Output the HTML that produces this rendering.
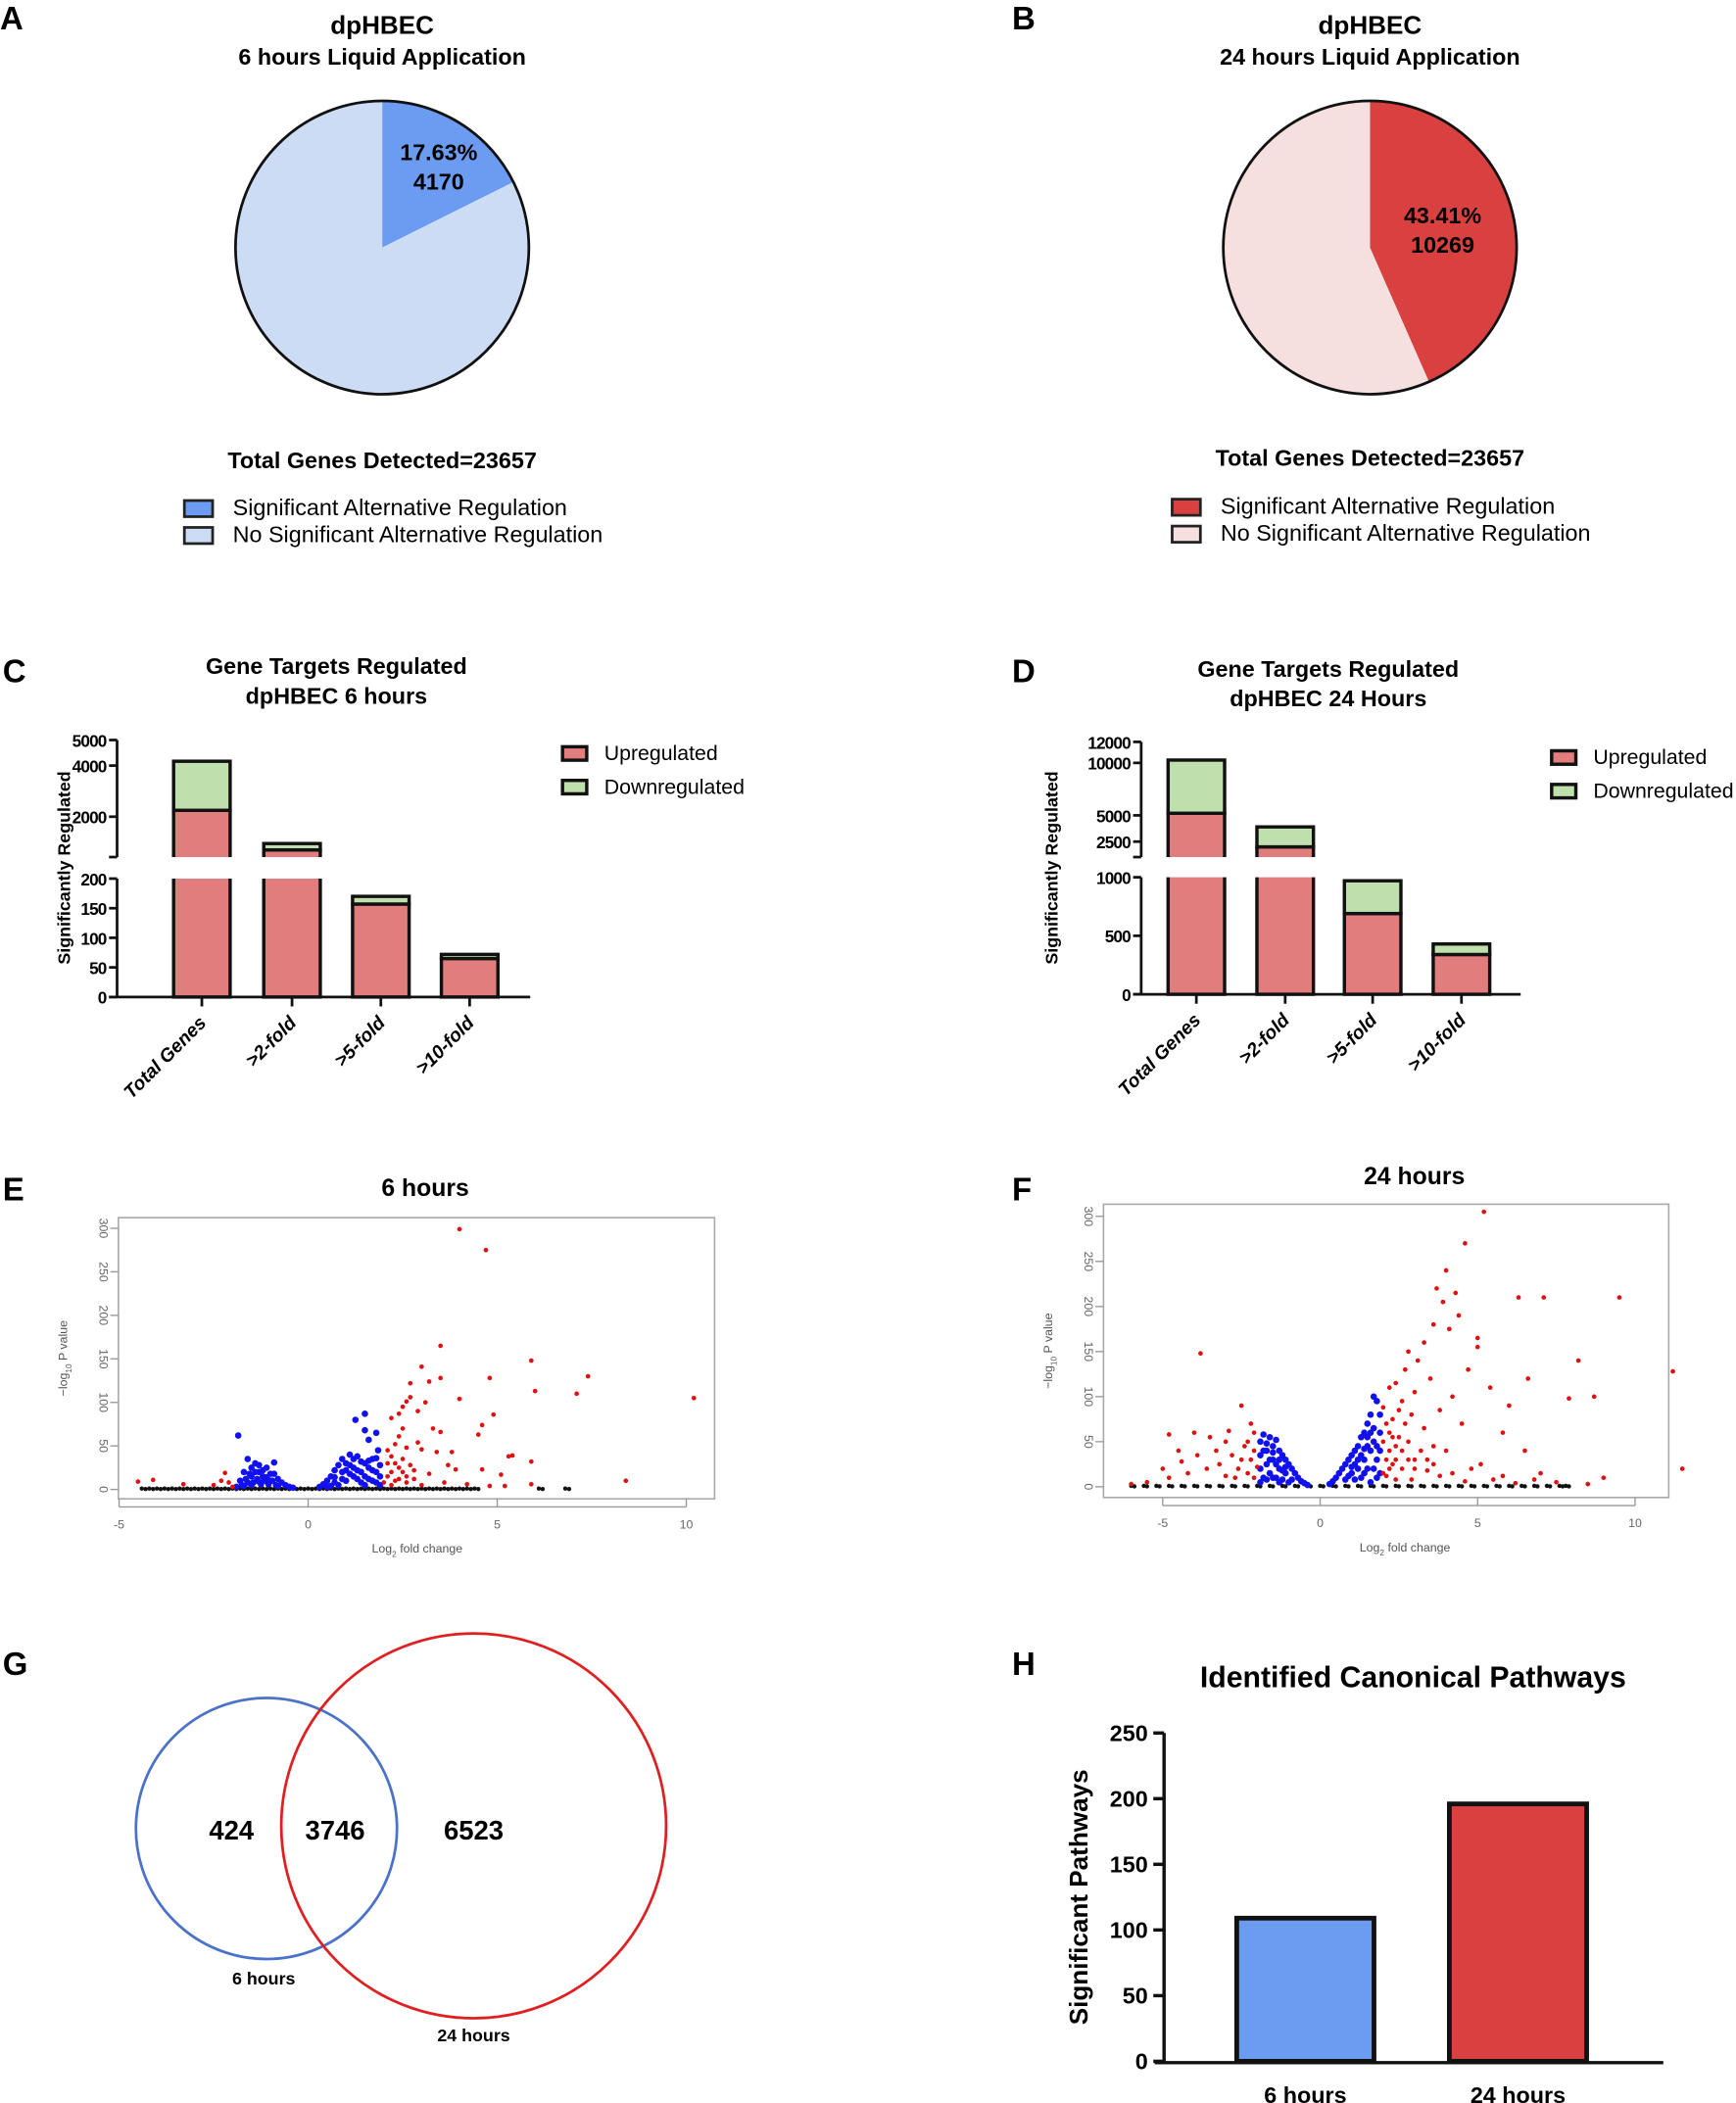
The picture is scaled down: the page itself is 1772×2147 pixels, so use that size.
<!DOCTYPE html>
<html><head><meta charset="utf-8"><style>
html,body{margin:0;padding:0;background:#fff;}
svg{display:block;font-family:"Liberation Sans",Arial,sans-serif;}
</style></head><body>
<svg id="fig" width="1772" height="2147" viewBox="0 0 1290 1563" xmlns="http://www.w3.org/2000/svg">
<g font-weight="bold" font-size="24">
<text x="0" y="22">A</text>
<text x="752" y="22">B</text>
<text x="2" y="507">C</text>
<text x="752" y="507">D</text>
<text x="2" y="892">E</text>
<text x="752" y="892">F</text>
<text x="2" y="1245">G</text>
<text x="752" y="1245">H</text>
</g>
<g id="pieA"></g>
<g id="pieB"></g>
<g id="barC"></g>
<g id="barD"></g>
<g id="volE"></g>
<g id="volF"></g>
<g id="venn">
<circle cx="198" cy="1359" r="97" fill="none" stroke="#4a72c8" stroke-width="2"/>
<circle cx="352" cy="1357" r="143" fill="none" stroke="#e02020" stroke-width="2"/>
<g font-weight="bold" font-size="20" text-anchor="middle">
<text x="172" y="1367">424</text>
<text x="249" y="1367">3746</text>
<text x="352" y="1367">6523</text>
</g>
<g font-weight="bold" font-size="13" text-anchor="middle">
<text x="196" y="1475">6 hours</text>
<text x="352" y="1517">24 hours</text>
</g>
</g>
<g id="barH"></g>
</svg>
<script>
const NS="http://www.w3.org/2000/svg";
function el(parent,tag,attrs,txt){const e=document.createElementNS(NS,tag);for(const k in attrs)e.setAttribute(k,attrs[k]);if(txt!==undefined)e.textContent=txt;parent.appendChild(e);return e;}

// ---------- Pie data ----------
const pieAFrac=[0.1763,0.8237];
const pieALabels=["17.63%","4170"];
const pieBFrac=[0.4341,0.5659];
const pieBLabels=["43.41%","10269"];
const pieLegend=["Significant Alternative Regulation","No Significant Alternative Regulation"];

function pie(g,cx,cy,r,fracs,cols,labels,lx,ly,title,sub,totalY,legX,legY){
  let t=el(g,'text',{x:cx,y:25,'text-anchor':'middle','font-size':19,'font-weight':'bold'},title);
  
  t=el(g,'text',{x:cx,y:48,'text-anchor':'middle','font-size':17,'font-weight':'bold'},sub);
  
  let a0=-Math.PI/2;
  fracs.forEach((f,i)=>{
    const a1=a0+f*2*Math.PI;
    const x0=cx+r*Math.cos(a0),y0=cy+r*Math.sin(a0),x1=cx+r*Math.cos(a1),y1=cy+r*Math.sin(a1);
    const large=f>0.5?1:0;
    const p=el(g,'path',{d:`M${cx},${cy}L${x0},${y0}A${r},${r} 0 ${large} 1 ${x1},${y1}Z`,fill:cols[i],stroke:'none'});
    
    
    a0=a1;
  });
  const c=el(g,'circle',{cx:cx,cy:cy,r:r,fill:'none',stroke:'#111','stroke-width':2});
  
  labels.forEach((s,i)=>{
    const tt=el(g,'text',{x:lx,y:ly+i*22,'text-anchor':'middle','font-size':17,'font-weight':'bold'},s);
    
  });
  t=el(g,'text',{x:cx,y:totalY,'text-anchor':'middle','font-size':17,'font-weight':'bold'},'Total Genes Detected=23657');
  
  pieLegend.forEach((s,i)=>{
    const rr=el(g,'rect',{x:legX,y:legY+i*20,width:21,height:12,fill:cols[i],stroke:'#222','stroke-width':2});
    
    const tt=el(g,'text',{x:legX+36,y:legY+11+i*20,'font-size':17},s);
    
  });
}
pie(document.getElementById('pieA'),284,184,109,pieAFrac,['#6b9cf2','#cddcf5'],pieALabels,326,119,'dpHBEC','6 hours Liquid Application',348,137,372);
pie(document.getElementById('pieB'),1018,184,109,pieBFrac,['#d94040','#f5dfdf'],pieBLabels,1072,166,'dpHBEC','24 hours Liquid Application',346,871,371);

// ---------- Broken-axis stacked bars ----------
const barCats=["Total Genes",">2-fold",">5-fold",">10-fold"];
const cUp=[2250,700,157,65];
const cDown=[1920,250,13,7];
const cUpperTicks=[5000,4000,2000];
const cLowerTicks=[200,150,100,50,0];
const dUp=[5200,2000,690,340];
const dDown=[5069,1900,280,90];
const dUpperTicks=[12000,10000,5000,2500];
const dLowerTicks=[1000,500,0];

function brokenBar(g,o){
  const yLow=v=>o.yBase-v*(o.yBase-o.lowTopY)/o.lowMax;
  const yUp=v=>o.upRefY-(v-o.upRefV)*o.upScale;
  const breakV=o.upRefV-(o.breakY-o.upRefY)/o.upScale;
  o.title.forEach((s,i)=>{const t=el(g,'text',{x:o.titleX,y:o.titleY+i*22,'text-anchor':'middle','font-size':17,'font-weight':'bold'},s);
    });
  const bw=42;
  o.centers.forEach((cx,i)=>{
    const segs=[[0,o.up[i],'#e27d7d'],[o.up[i],o.up[i]+o.down[i],'#bfe0ad']];
    segs.forEach((s,k)=>{
      const [v0,v1,col]=s;
      const l0=Math.min(v0,o.lowMax),l1=Math.min(v1,o.lowMax);
      if(l1>l0){const r=el(g,'rect',{x:cx-bw/2,y:yLow(l1),width:bw,height:yLow(l0)-yLow(l1),fill:col,stroke:'#111','stroke-width':2.5});
        }
      const u0=Math.max(v0,breakV),u1=Math.max(v1,breakV);
      if(u1>u0){const r=el(g,'rect',{x:cx-bw/2,y:yUp(u1),width:bw,height:yUp(u0)-yUp(u1),fill:col,stroke:'#111','stroke-width':2.5});
        }
    });
    if(o.up[i]+o.down[i]>o.lowMax){
      const gap=el(g,'rect',{x:cx-bw/2+1.3,y:o.breakY-2,width:bw-2.6,height:o.lowTopY-o.breakY+3.5,fill:'#e27d7d'});
      
      const gap2=el(g,'rect',{x:cx-bw/2-2,y:o.breakY,width:bw+4,height:o.lowTopY-o.breakY,fill:'#fff'});
      
    }
    const tk=el(g,'line',{x1:cx,x2:cx,y1:o.yBase,y2:o.yBase+7,stroke:'#111','stroke-width':2});
    
    const lb=el(g,'text',{x:cx+4,y:o.yBase+20,'text-anchor':'end','font-size':14,'font-style':'italic','font-weight':'bold',transform:`rotate(-45 ${cx+4} ${o.yBase+20})`},barCats[i]);
    
  });
  const ax=o.axisX;
  let ln=el(g,'line',{x1:ax,x2:ax,y1:yUp(o.upperTicks[0]),y2:o.breakY,stroke:'#111','stroke-width':2});
  
  ln=el(g,'line',{x1:ax-6,x2:ax,y1:o.breakY,y2:o.breakY,stroke:'#111','stroke-width':2});
  
  ln=el(g,'line',{x1:ax,x2:ax,y1:o.lowTopY,y2:o.yBase,stroke:'#111','stroke-width':2});
  
  ln=el(g,'line',{x1:ax-6,x2:o.axisEnd,y1:o.yBase,y2:o.yBase,stroke:'#111','stroke-width':2});
  
  const tickStyle={'text-anchor':'end','font-size':12.5,'font-weight':'bold','letter-spacing':'-0.6'};
  o.upperTicks.forEach(v=>{const y=yUp(v);
    const l=el(g,'line',{x1:ax-6,x2:ax,y1:y,y2:y,stroke:'#111','stroke-width':2});
    const t=el(g,'text',Object.assign({x:ax-8,y:y+5},tickStyle),v);});
  o.lowerTicks.forEach(v=>{const y=yLow(v);
    const l=el(g,'line',{x1:ax-6,x2:ax,y1:y,y2:y,stroke:'#111','stroke-width':2});
    const t=el(g,'text',Object.assign({x:ax-8,y:y+5},tickStyle),v);});
  const yt=el(g,'text',{x:o.ytX,y:645,'text-anchor':'middle','font-size':13,'font-weight':'bold',transform:`rotate(-90 ${o.ytX} 645)`},'Significantly Regulated');
  
  [['Upregulated','#e27d7d'],['Downregulated','#bfe0ad']].forEach((s,i)=>{
    const r=el(g,'rect',{x:o.legX,y:o.legY+i*25,width:18,height:10,fill:s[1],stroke:'#111','stroke-width':2.5});
    
    const t=el(g,'text',{x:o.legX+31,y:o.legY+10+i*25,'font-size':15.5},s[0]);
    
  });
}
brokenBar(document.getElementById('barC'),{axisX:87,axisEnd:394,yBase:741,lowMax:200,lowTopY:653,upRefV:4000,upRefY:569,upScale:0.019,breakY:637,
  centers:[150,217,283,349],up:cUp,down:cDown,upperTicks:cUpperTicks,lowerTicks:cLowerTicks,title:['Gene Targets Regulated','dpHBEC 6 hours'],titleX:250,titleY:501,ytX:52,legX:418,legY:555});
brokenBar(document.getElementById('barD'),{axisX:848,axisEnd:1130,yBase:739,lowMax:1000,lowTopY:652,upRefV:10000,upRefY:567,upScale:0.0078,breakY:637,
  centers:[889,955,1020,1086],up:dUp,down:dDown,upperTicks:dUpperTicks,lowerTicks:dLowerTicks,title:['Gene Targets Regulated','dpHBEC 24 Hours'],titleX:987,titleY:503,ytX:786,legX:1153,legY:558});

// ---------- Volcano data ----------
const eBlue=[[-1.9,3],[-1.8,10],[-1.7,20],[-1.6,35],[-1.5,25],[-1.4,30],[-1.3,20],[-1.2,15],[-1.1,25],[-1.0,18],[-0.9,31],[-0.8,12],[-0.7,8],[-0.6,5],[-0.5,3],[-0.4,2],[-1.85,62],[-1.75,5],[-1.65,12],[-1.55,18],[-1.45,8],[-1.35,12],[-1.25,6],[-1.15,10],[-1.05,6],[-0.95,10],[-0.85,5],[-1.5,15],[-1.3,28],[-1.6,8],[-1.4,20],[-1.2,22],[-1.0,10],[-1.7,4],[-1.1,14],[-0.9,18],[-0.8,4],[-1.5,5],[-1.3,9],
[0.3,3],[0.4,6],[0.5,10],[0.6,15],[0.7,22],[0.8,28],[0.9,35],[1.0,30],[1.1,40],[1.2,35],[1.3,38],[1.4,32],[1.5,30],[1.6,25],[1.7,35],[1.8,20],[1.9,15],[1.25,80],[1.5,87],[1.5,68],[1.6,57],[1.8,65],[1.85,45],[0.5,3],[0.7,8],[0.9,12],[1.1,18],[1.3,22],[1.5,15],[1.7,10],[1.9,5],[0.8,5],[1.0,10],[1.2,15],[1.4,20],[1.6,12],[1.8,8],[1.0,22],[1.3,12],[1.1,28],[1.4,8],[0.6,4],[1.7,22],[1.9,28],[0.9,20],[1.2,25],[1.5,5],[1.6,33],[0.7,14],[1.8,36]];
const eRed=[[4.0,299],[4.7,275],[3.5,165],[5.9,148],[3.0,141],[7.4,130],[4.8,128],[3.5,128],[3.2,124],[2.7,122],[6.0,113],[7.1,110],[10.2,105],[4.0,104],[2.7,106],[3.1,100],[2.6,101],[2.9,90],[2.5,95],[4.9,86],[2.4,87],[2.2,82],[4.6,74],[2.5,70],[3.3,70],[3.5,66],[2.4,61],[4.5,63],[2.3,52],[2.9,54],[2.6,48],[3.0,46],[3.4,43],[3.8,43],[5.4,39],[5.3,38],[5.9,32],[3.7,28],[3.9,23],[4.6,23],[5.1,17],[8.4,10],[5.9,6],[2.1,45],[2.2,38],[2.3,30],[2.4,25],[2.5,20],[2.1,15],[2.3,10],[2.6,8],[2.8,12],[3.0,5],[2.2,5],[2.5,35],[2.7,28],[3.2,18],[3.6,8],[4.2,6],[4.8,4],[5.2,4],[2.1,30],[2.2,20],[2.4,12],[2.0,8],[2.6,15],[2.8,22],
[-4.5,9],[-4.1,11],[-3.3,6],[-2.2,19],[-2.3,10],[-2.5,5],[-2.1,8],[-2.0,3]];
const eBlack=[-4.4,-4.2,-4.0,-3.8,-3.6,-3.4,-3.2,-3.0,-2.8,-2.6,-2.4,-2.2,-2.0,-1.8,-1.6,-1.4,-1.2,-1.0,-0.8,-0.6,-0.4,-0.2,0,0.2,0.4,0.6,0.8,1.0,1.2,1.4,1.6,1.8,2.0,2.2,2.4,2.6,2.8,3.0,3.2,3.4,3.6,3.8,4.0,4.2,4.4,6.1,6.8];
const fBlue=[[-1.9,50],[-1.8,58],[-1.7,40],[-1.6,55],[-1.5,45],[-1.4,52],[-1.3,40],[-1.2,35],[-1.1,30],[-1.0,25],[-0.9,20],[-0.8,15],[-0.7,10],[-0.6,6],[-0.5,4],[-0.4,2],[-1.9,20],[-1.7,25],[-1.5,30],[-1.3,20],[-1.1,15],[-0.9,8],[-1.8,10],[-1.6,15],[-1.4,10],[-1.2,8],[-1.0,5],[-1.9,35],[-1.5,10],[-1.3,5],[-1.7,8],[-1.8,40],[-1.6,30],[-1.4,25],[-1.2,18],[-1.9,5],[-1.7,48],[-1.5,38],[-1.3,30],[-1.1,22],
[0.3,3],[0.4,6],[0.5,10],[0.6,15],[0.7,20],[0.8,25],[0.9,30],[1.0,35],[1.1,40],[1.2,45],[1.3,55],[1.4,60],[1.5,70],[1.6,80],[1.7,100],[1.8,95],[1.9,60],[1.6,40],[1.4,30],[1.2,20],[1.0,15],[0.8,8],[1.8,30],[1.9,15],[1.5,20],[1.3,10],[1.7,50],[1.5,45],[1.1,8],[1.9,80],[1.7,65],[1.8,45],[1.6,60],[1.4,42],[1.2,30],[1.0,22],[0.9,12],[1.7,20],[1.9,40],[1.6,5],[1.8,10],[1.4,15],[1.5,55],[1.3,35],[1.1,25]];
const fRed=[[5.2,305],[4.6,270],[4.0,240],[3.7,220],[4.3,215],[3.9,205],[6.3,210],[7.1,210],[9.5,210],[4.4,190],[3.6,180],[5.0,165],[5.0,155],[4.1,175],[3.3,160],[2.8,150],[3.1,140],[11.2,128],[8.2,140],[6.6,120],[4.7,130],[3.5,120],[2.7,130],[2.4,115],[2.2,110],[3.0,105],[2.6,95],[4.2,100],[5.4,110],[8.7,100],[7.9,98],[6.0,90],[3.8,85],[2.9,80],[2.3,75],[2.1,70],[4.5,70],[3.3,65],[5.8,60],[2.5,55],[2.8,50],[3.6,45],[2.2,40],[4.0,40],[6.5,40],[2.4,30],[3.0,30],[5.1,25],[2.6,20],[3.4,18],[7.0,15],[2.1,12],[2.9,8],[4.6,6],[6.2,4],[8.5,3],[11.5,20],[9.0,10],[2.3,55],[2.0,88],[2.7,70],[3.2,40],[2.5,85],[2.0,50],[2.2,20],[2.4,8],[3.8,12],[5.5,8],[2.1,30],[2.3,25],[2.6,40],[2.8,30],[3.0,20],[3.4,30],[2.2,60],[2.4,45],[2.0,15],[3.6,25],[4.2,15],[4.8,20],[5.8,12],[6.8,8],[7.5,5],
[-3.8,148],[-4.8,58],[-4.5,40],[-4.0,60],[-3.5,55],[-3.0,50],[-2.5,90],[-2.2,70],[-2.1,60],[-2.4,45],[-2.8,35],[-3.2,25],[-3.6,20],[-4.2,15],[-4.8,10],[-5.5,5],[-6.0,3],[-2.2,30],[-2.6,20],[-3.0,12],[-2.1,40],[-2.3,15],[-5.0,20],[-4.4,28],[-3.9,35],[-2.9,62],[-2.7,10],[-2.0,22],[-2.3,50],[-2.5,30],[-2.1,10],[-3.3,40]];
const fBlack=[-6,-5.6,-5.2,-4.8,-4.4,-4.0,-3.6,-3.2,-2.8,-2.4,-2.0,-1.6,-1.2,-0.8,-0.4,0,0.4,0.8,1.2,1.6,2.0,2.4,2.8,3.2,3.6,4.0,4.4,4.8,5.2,5.6,6.0,6.4,6.8,7.2,7.6,7.8];
const volXTicks=[-5,0,5,10];
const volYTicks=[0,50,100,150,200,250,300];

function volcano(g,o){
  const X=v=>o.x0+v*o.xs, Y=v=>o.y0-v*o.ys;
  let t=el(g,'text',{x:o.titleX,y:o.titleY,'text-anchor':'middle','font-size':18,'font-weight':'bold'},o.title);
  
  const box=el(g,'rect',{x:o.bx0,y:o.by0,width:o.bx1-o.bx0,height:o.by1-o.by0,fill:'none',stroke:'#aaa','stroke-width':1.2});
  
  volXTicks.forEach(v=>{const x=X(v);
    const l=el(g,'line',{x1:x,x2:x,y1:o.by1,y2:o.by1+6,stroke:'#999'});
    const tt=el(g,'text',{x:x,y:o.by1+22,'text-anchor':'middle','font-size':9,fill:'#666'},v);});
  let al=el(g,'line',{x1:X(-5),x2:X(10),y1:o.by1+6,y2:o.by1+6,stroke:'#999'});
  volYTicks.forEach(v=>{const y=Y(v);
    const l=el(g,'line',{x1:o.bx0-6,x2:o.bx0,y1:y,y2:y,stroke:'#999'});
    const tt=el(g,'text',{x:o.bx0-14,y:y,'text-anchor':'middle','font-size':9,fill:'#666',transform:`rotate(90 ${o.bx0-14} ${y})`},v);});
  t=el(g,'text',{x:o.xlX,y:o.by1+40,'text-anchor':'middle','font-size':9,fill:'#555'},'Log');
  el(t,'tspan',{'font-size':6,dy:3},'2');el(t,'tspan',{dy:-3},' fold change');
  
  const yc=(o.by0+o.by1)/2, yx=o.bx0-38;
  t=el(g,'text',{x:yx,y:yc,'text-anchor':'middle','font-size':9,fill:'#555',transform:`rotate(-90 ${yx} ${yc})`},'\u2212log');
  el(t,'tspan',{'font-size':6,dy:3},'10');el(t,'tspan',{dy:-3},' P value');
  
  o.black.forEach(v=>{const c=el(g,'circle',{cx:X(v),cy:Y(1),r:1.6,fill:'#111'});});
  o.black.forEach(v=>{const c=el(g,'circle',{cx:X(v)+o.xs*0.1,cy:Y(0.5),r:1.6,fill:'#111'});});
  o.blue.forEach(p=>{const c=el(g,'circle',{cx:X(p[0]),cy:Y(p[1]),r:o.rb,fill:'#1010f0'});});
  o.red.forEach(p=>{const c=el(g,'circle',{cx:X(p[0]),cy:Y(p[1]),r:1.7,fill:'#e01010'});});
}
volcano(document.getElementById('volE'),{x0:229,xs:28.1,y0:1107,ys:0.647,bx0:88,bx1:531,by0:905,by1:1114,title:'6 hours',titleX:316,titleY:889,xlX:310,blue:eBlue,red:eRed,black:eBlack,rb:2.4});
volcano(document.getElementById('volF'),{x0:981,xs:23.4,y0:1105,ys:0.67,bx0:820,bx1:1240,by0:895,by1:1113,title:'24 hours',titleX:1051,titleY:880,xlX:1044,blue:fBlue,red:fRed,black:fBlack,rb:2.4});

// ---------- Pathways bar chart ----------
const pathCats=["6 hours","24 hours"];
const pathVals=[109,196];
const pathColors=['#6b9cf2','#d94040'];
const pathTicks=[0,50,100,150,200,250];
(function(){
  const g=document.getElementById('barH');
  const Y=v=>1532-v*0.976;
  let t=el(g,'text',{x:1050,y:1254,'text-anchor':'middle','font-size':22,'font-weight':'bold'},'Identified Canonical Pathways');
  
  const centers=[970,1128];
  pathVals.forEach((v,i)=>{
    const r=el(g,'rect',{x:centers[i]-51,y:Y(v),width:102,height:Y(0)-Y(v),fill:pathColors[i],stroke:'#111','stroke-width':3.5});
    
    const lb=el(g,'text',{x:centers[i],y:1563,'text-anchor':'middle','font-size':17,'font-weight':'bold'},pathCats[i]);
    
  });
  let l=el(g,'line',{x1:865,x2:865,y1:Y(250),y2:1533,stroke:'#111','stroke-width':2.5});
  l=el(g,'line',{x1:858,x2:1236,y1:1533,y2:1533,stroke:'#111','stroke-width':2.5});
  pathTicks.forEach(v=>{const y=Y(v);
    const tk=el(g,'line',{x1:857,x2:865,y1:y,y2:y,stroke:'#111','stroke-width':2.5});
    const tt=el(g,'text',{x:853,y:y+6,'text-anchor':'end','font-size':17,'font-weight':'bold'},v);});
  t=el(g,'text',{x:808,y:1410,'text-anchor':'middle','font-size':19,'font-weight':'bold',transform:'rotate(-90 808 1410)'},'Significant Pathways');
  
})();
</script>
</body></html>
